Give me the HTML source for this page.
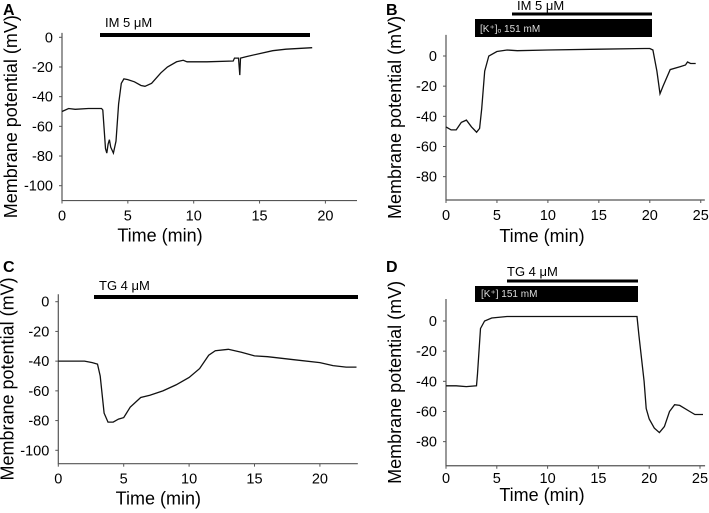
<!DOCTYPE html>
<html><head><meta charset="utf-8"><style>
body{margin:0;background:#fff}
svg{display:block;font-family:"Liberation Sans",Arial,sans-serif}
</style></head><body>
<svg id="fig" width="709" height="513" viewBox="0 0 709 513" xmlns="http://www.w3.org/2000/svg"></svg>
<script>
const tA=[0,0.5,1,2,3,3.1,3.3,3.4,3.5,3.6,3.7,3.9,4.1,4.3,4.5,4.7,5,5.5,6,6.3,6.8,7.5,8,8.7,9.2,9.5,11,13,13.1,13.4,13.5,13.55,14,15,16,17,19];
const vA=[-50,-48,-48.5,-48,-48,-49,-75,-78,-72,-69,-74,-78,-70,-45,-31,-28,-28.5,-30,-32.5,-33,-31,-24,-20,-16.5,-15.5,-16.5,-16.5,-16,-14,-14,-25.5,-14,-13,-11,-9,-8,-7];
const tB=[0,0.5,1,1.5,2,2.5,3,3.3,3.5,3.8,4.2,5,6,7,10,15,19.5,20,20.3,20.7,21,21.3,22,23,23.5,23.7,24,24.5];
const vB=[-47,-49,-49,-44,-42.5,-47,-50.5,-48,-35,-10,0,3,4,3.5,4,4.5,5,5,4,-10,-25,-20,-9,-7,-6,-4,-5,-5];
const tC=[0,2,2.6,3,3.2,3.5,3.8,4.2,4.6,5,5.5,6.3,7,8,9,10,10.8,11.5,12,13,14,15,16,18,20,21,22,22.8];
const vC=[-40,-40,-41,-42,-50,-75,-81,-81,-79,-78,-71,-64.5,-63,-60,-56,-51,-45,-36,-33,-32,-34,-36.5,-37,-39,-41,-43,-44,-44];
const tD=[0,1,2,3,3.1,3.4,3.8,4.5,6,10,15,18.5,18.8,19,19.5,19.7,20,20.5,21,21.5,22,22.5,23,24,24.5,25.3];
const vD=[-43,-43,-43.5,-43,-35,-5,0,2,3,3,3,3,3,-10,-40,-58,-65,-71,-74,-70,-60,-55.5,-56,-60,-62,-62];
const xTicksA=[0,5,10,15,20], yTicksA=[0,-20,-40,-60,-80,-100];
const xTicksB=[0,5,10,15,20,25], yTicksB=[0,-20,-40,-60,-80];

const svg=document.getElementById('fig');
const NS='http://www.w3.org/2000/svg';
function mk(tag,attrs,parent){const e=document.createElementNS(NS,tag);for(const k in attrs)e.setAttribute(k,attrs[k]);(parent||svg).appendChild(e);return e;}

function panel(p){
  const g=mk('g',{});
  
  
  const X=t=>p.x0+(t)*p.sx, Y=v=>p.y0-(v)*p.sy;
  const L=mk('text',{x:p.lx,y:p.ly,'font-size':16,'font-weight':'bold'},g);L.textContent=p.id;
  
  
  const ax=mk('path',{d:`M${p.x0} ${Y(p.ytop)}V${Y(p.ybot)}H${X(p.xmax)}`,stroke:'#555',fill:'none','stroke-width':1.2},g);
  
  
  p.yt.forEach(v=>{
    mk('line',{x1:p.x0-3,x2:p.x0,y1:Y(v),y2:Y(v),stroke:'#555'},g);
    const t=mk('text',{x:p.x0-9,y:Y(v)+5,'font-size':14.5,'text-anchor':'end'},g);t.textContent=v;
    
    
  });
  p.xt.forEach(v=>{
    mk('line',{x1:X(v),x2:X(v),y1:Y(p.ybot),y2:Y(p.ybot)+3,stroke:'#555'},g);
    const t=mk('text',{x:X(v),y:Y(p.ybot)+p.tko,'font-size':14.5,'text-anchor':'middle'},g);t.textContent=v;
    
    
  });
  const xl=mk('text',{x:p.x0+p.xlo,y:Y(p.ybot)+p.tto,'font-size':18,'text-anchor':'middle'},g);xl.textContent='Time (min)';
  
  
  const cy=(Y(p.ytop)+Y(p.ybot))/2;
  const yl=mk('text',{x:0,y:0,'font-size':18,'text-anchor':'middle',transform:`translate(${p.x0-45},${cy}) rotate(-90)`},g);yl.textContent='Membrane potential (mV)';
  
  
  const d=p.t.map((t,i)=>(i?'L':'M')+X(t).toFixed(1)+' '+Y(p.v[i]).toFixed(1)).join('');
  const ln=mk('path',{d,stroke:'#111',fill:'none','stroke-width':1.3},g);
  
  
  p.bars.forEach(b=>{
    const r=mk('rect',{x:b.x1,y:b.y,width:b.x2-b.x1,height:b.h,fill:'#000'},g);
    
    
    if(b.txt){const t=mk('text',{x:b.tx,y:b.ty,'font-size':b.fs,fill:b.fill||'#000'},g);t.textContent=b.txt;
      
      }
  });
}
panel({id:'A',lx:3,ly:15,x0:62,sx:13.17,y0:37.3,sy:1.484,ytop:3,ybot:-110,xmax:22.4,xt:xTicksA,yt:yTicksA,t:tA,v:vA,xlo:98,tko:20,tto:41,
  bars:[{name:'im-bar',x1:100,x2:310,y:33,h:4,txt:'IM  5 μM',tx:105,ty:27,fs:13}]});
panel({id:'B',lx:386,ly:15,x0:446,sx:10.19,y0:56,sy:1.508,ytop:14,ybot:-95.5,xmax:25.4,xt:xTicksB,yt:yTicksB,t:tB,v:vB,xlo:96,tko:20,tto:42,
  bars:[{name:'im-bar',x1:512,x2:652,y:12.5,h:3,txt:'IM  5 μM',tx:517,ty:10,fs:13},
        {name:'k-bar',x1:475,x2:652,y:19,h:18,txt:'[K⁺]ₒ  151 mM',tx:480,ty:32,fs:10,fill:'#ddd'}]});
panel({id:'C',lx:3,ly:272,x0:58.3,sx:13.08,y0:301.7,sy:1.486,ytop:5,ybot:-109,xmax:22.9,xt:xTicksA,yt:yTicksA,t:tC,v:vC,xlo:100,tko:20,tto:41,
  bars:[{name:'tg-bar',x1:94,x2:358,y:295,h:4,txt:'TG 4 μM',tx:99,ty:290,fs:13}]});
panel({id:'D',lx:386,ly:272,x0:446,sx:10.16,y0:321,sy:1.508,ytop:14.6,ybot:-96,xmax:25.5,xt:xTicksB,yt:yTicksB,t:tD,v:vD,xlo:96,tko:17,tto:35,
  bars:[{name:'tg-bar',x1:507,x2:638,y:279.5,h:3,txt:'TG 4 μM',tx:507,ty:276,fs:13},
        {name:'k-bar',x1:475,x2:638,y:286,h:16,txt:'[K⁺]    151 mM',tx:481,ty:297,fs:10,fill:'#ddd'}]});
</script>
</body></html>
